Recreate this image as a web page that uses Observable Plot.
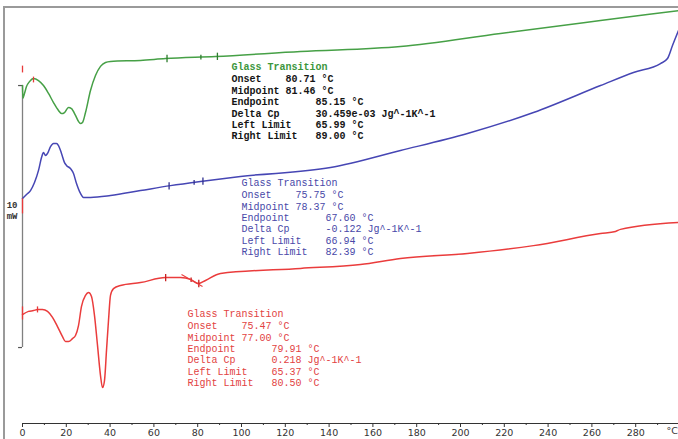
<!DOCTYPE html>
<html><head><meta charset="utf-8">
<script src="https://cdn.jsdelivr.net/npm/d3@7"></script>
<script src="https://cdn.jsdelivr.net/npm/@observablehq/plot@0.6"></script>
<style>
html,body{margin:0;padding:0;background:#fff;}
svg text, svg tspan {white-space: pre;}
</style></head><body><div id="chart"></div>
<script>
// Temperature (°C) and heat flow (mW, curves offset for display)
const greenT  = [0, 0.14, 0.91, 1.83, 3.20, 5.02, 7.31, 9.59, 11.87, 14.16, 16.44, 17.81, 19.18, 21.00, 22.37, 24.20, 25.57, 26.48, 27.40, 28.77, 31.05, 33.33, 35.62, 37.90, 40.18, 53.88, 65.30, 88.13, 126.94, 172.60, 218.26, 263.93, 299.54];
const greenHF = [13.51, 13.02, 13.21, 13.47, 13.66, 13.78, 13.70, 13.51, 13.21, 12.86, 12.56, 12.44, 12.48, 12.67, 12.63, 12.37, 12.14, 12.06, 12.10, 12.48, 13.32, 13.89, 14.24, 14.39, 14.43, 14.47, 14.54, 14.62, 14.81, 15.00, 15.50, 15.99, 16.37];

const blueT  = [0, 1.83, 3.65, 5.48, 7.31, 8.68, 9.59, 10.50, 11.42, 12.79, 14.16, 15.53, 16.44, 17.81, 19.18, 20.09, 21.92, 23.29, 24.66, 26.48, 27.85, 31.05, 40.18, 53.88, 67.58, 81.28, 99.54, 140.64, 172.60, 203.20, 233.33, 263.93, 279.00, 291.32, 294.52, 296.80, 299.54];
const blueHF = [9.20, 9.35, 9.50, 9.81, 10.27, 10.76, 10.95, 10.84, 10.92, 11.18, 11.30, 11.30, 11.22, 10.92, 10.57, 10.46, 10.34, 10.15, 9.77, 9.39, 9.24, 9.24, 9.31, 9.50, 9.69, 9.85, 10.04, 10.38, 11.03, 11.68, 12.48, 13.51, 14.01, 14.35, 14.54, 15.04, 15.61];

const redT  = [0, 2.74, 5.02, 6.85, 9.13, 11.42, 13.70, 15.98, 18.26, 19.63, 21.00, 22.83, 24.20, 25.57, 26.94, 28.77, 30.14, 31.51, 32.88, 34.25, 35.62, 36.53, 37.44, 38.36, 39.27, 40.18, 41.55, 44.75, 53.88, 65.30, 72.15, 76.71, 80.37, 83.56, 90.41, 126.94, 154.34, 172.60, 203.20, 233.33, 263.93, 270.78, 273.06, 299.54];
const redHF = [4.77, 4.89, 4.92, 4.96, 4.96, 4.89, 4.66, 4.31, 3.93, 3.74, 3.74, 3.85, 3.97, 4.35, 5.08, 5.50, 5.61, 5.46, 4.73, 3.59, 2.44, 1.98, 2.25, 3.40, 4.54, 5.50, 5.76, 5.88, 5.99, 6.18, 6.18, 6.11, 5.95, 6.07, 6.34, 6.53, 6.68, 6.91, 7.10, 7.40, 7.86, 7.94, 8.02, 8.28];

// Glass transition results
const gtLabels = ["Onset", "Midpoint", "Endpoint", "Delta Cp", "Left Limit", "Right Limit"];
const gtUnits  = ["°C", "°C", "°C", "Jg^-1K^-1", "°C", "°C"];
const greenValues = ["80.71", "81.46", "85.15", "30.459e-03", "65.99", "89.00"];
const blueValues  = ["75.75", "78.37", "67.60", "-0.122", "66.94", "82.39"];
const redValues   = ["75.47", "77.00", "79.91", "0.218", "65.37", "80.50"];

// Integration start markers (T, HF from, HF to)
const greenStart = [[0, 14.27, 14.01], [5.02, 13.85, 13.63]];
const blueStart  = [[0, 9.20, 8.63]];
const redStart   = [[0, 5.08, 4.58], [6.85, 5.08, 4.85]];
// Red tangent at the end of the transition (T1, HF1, T2, HF2)
const redTangent = [[72.6, 6.30, 82.2, 5.84]];

// Scale bar (mW)
const scaleBar = [3.51, 13.51];

// Axis ticks
const xTicks = [0, 20, 40, 60, 80, 100, 120, 140, 160, 180, 200, 220, 240, 260, 280];
const xMinor = [10, 30, 50, 70, 90, 110, 130, 150, 170, 190, 210, 230, 250, 270, 290];

const GREEN = "#46a046", BLUE = "#4646b4", RED = "#ea3c3c";
const GREEN_T = "#3c963c", BLUE_T = "#4848a8", RED_T = "#e24242";

const pts = (xs, ys) => xs.map((x, i) => ({T: x, HF: ys[i]}));
function at(T, xs, ys) {
  const i = Math.max(1, Math.min(xs.length - 1, d3.bisectRight(xs, T)));
  const t = (T - xs[i - 1]) / (xs[i] - xs[i - 1]);
  return ys[i - 1] + t * (ys[i] - ys[i - 1]);
}
function markers(values, xs, ys) {
  return [[4, 0.14], [1, 0.09], [5, 0.14]].map(([k, h]) => {
    const T = parseFloat(values[k]);
    return {T, y: at(T, xs, ys), h};
  });
}
function body(values) {
  return gtLabels.map((l, i) => l.padEnd(i < 2 ? 9 : 14) + values[i] + " " + gtUnits[i]).join("\n");
}
const starts = (arr) => arr.map(([T, a, b]) => ({T, a, b}));

const mono = "Liberation Mono, DejaVu Sans Mono, monospace";
function block(values, x, y, titleFill, bodyFill, weight) {
  return [
    Plot.text(["Glass Transition"], {x, y, text: d => d, lineAnchor: "top", textAnchor: "start",
      fontFamily: mono, fontSize: 10, fill: titleFill, fontWeight: weight}),
    Plot.text([body(values)], {x, y, dy: 11.4, text: d => d, lineAnchor: "top", textAnchor: "start",
      lineHeight: 1.14, fontFamily: mono, fontSize: 10, fill: bodyFill, fontWeight: weight})
  ];
}

const chart = Plot.plot({
  width: 678, height: 439,
  marginLeft: 22, marginRight: 0, marginTop: 0, marginBottom: 16,
  x: {domain: [0, 300], range: [22, 679]},
  y: {domain: [0, 439 / 26.2], range: [439, 0], axis: null},
  style: {background: "white", fontFamily: "DejaVu Sans", overflow: "visible"},
  marks: [
    Plot.frame({anchor: "bottom", stroke: "#333"}),
    Plot.axisX(xTicks, {tickSize: 4, tickPadding: 2, fontSize: 9.5, color: "#333", label: null}),
    Plot.axisX(xMinor, {tickSize: 2, text: null, color: "#333", label: null}),
    Plot.text(["°C"], {x: 299.3, frameAnchor: "bottom", dy: 10, text: d => d, fontSize: 9.5, fill: "#333", textAnchor: "end"}),
    // scale bar
    Plot.ruleX([0], {y1: scaleBar[0], y2: scaleBar[1], stroke: "#808080", strokeWidth: 1.3}),
    Plot.ruleY(scaleBar, {x1: -1.8, x2: 0, stroke: "#555", strokeWidth: 1.2}),
    Plot.text(["10\nmW"], {x: 0, y: 8.76, dx: -5, text: d => d, textAnchor: "end", lineHeight: 1.2,
      fontFamily: mono, fontSize: 9, fontWeight: "bold", fill: "#333"}),
    // curves
    Plot.line(pts(greenT, greenHF), {x: "T", y: "HF", stroke: GREEN, strokeWidth: 1.5, curve: "monotone-x"}),
    Plot.line(pts(blueT, blueHF), {x: "T", y: "HF", stroke: BLUE, strokeWidth: 1.5, curve: "monotone-x"}),
    Plot.line(pts(redT, redHF), {x: "T", y: "HF", stroke: RED, strokeWidth: 1.5, curve: "monotone-x"}),
    // limit markers
    Plot.link(markers(greenValues, greenT, greenHF), {x1: "T", x2: "T", y1: d => d.y - d.h, y2: d => d.y + d.h, stroke: "#2e7d2e", strokeWidth: 1.3}),
    Plot.link(markers(blueValues, blueT, blueHF), {x1: "T", x2: "T", y1: d => d.y - d.h, y2: d => d.y + d.h, stroke: "#303090", strokeWidth: 1.3}),
    Plot.link(markers(redValues, redT, redHF), {x1: "T", x2: "T", y1: d => d.y - d.h, y2: d => d.y + d.h, stroke: "#c82020", strokeWidth: 1.3}),
    Plot.link(redTangent, {x1: d => d[0], y1: d => d[1], x2: d => d[2], y2: d => d[3], stroke: RED, strokeWidth: 1.1}),
    // start markers
    Plot.link(starts(greenStart).concat(starts(blueStart), starts(redStart)), {x1: "T", x2: "T", y1: "a", y2: "b", stroke: "#e83a3a", strokeWidth: 1.3}),
    // text blocks
    ...block(greenValues, 95.43, 14.37, GREEN_T, "#151515", "bold"),
    ...block(blueValues, 100.0, 9.95, BLUE_T, BLUE_T, "normal"),
    ...block(redValues, 75.34, 4.95, RED_T, RED_T, "normal")
  ]
});

chart.setAttribute("xml:space", "preserve");
const s = d3.select(chart);
s.append("line").attr("x1", 4).attr("x2", 4).attr("y1", 7).attr("y2", 439).attr("stroke", "#9a9a9a").attr("stroke-width", 2);
s.append("line").attr("x1", 3).attr("x2", 678).attr("y1", 7).attr("y2", 7).attr("stroke", "#9a9a9a").attr("stroke-width", 2);
document.getElementById("chart").appendChild(chart);
</script></body></html>
